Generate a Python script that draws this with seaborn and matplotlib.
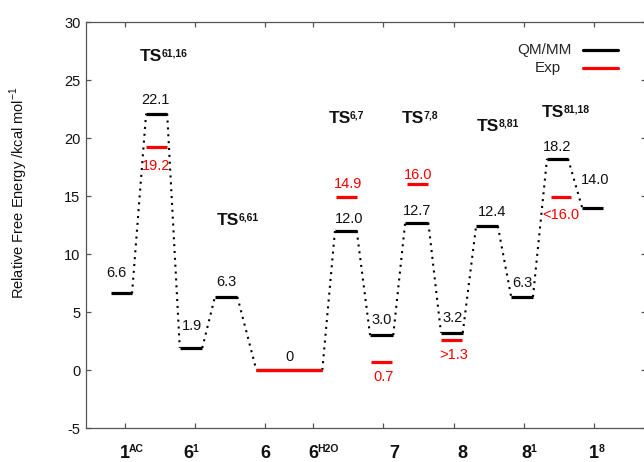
import numpy as np
import pandas as pd
import matplotlib
matplotlib.use('Agg')
import matplotlib.pyplot as plt
import seaborn as sns

# energies (kcal/mol) along the pathway
states = ['1AC', 'TS61,16', '61', 'TS6,61', '6', 'TS6,7', '7', 'TS7,8', '8',
          'TS8,81', '81', 'TS81,18', '18']
qm_values = [6.6, 22.1, 1.9, 6.3, 0.0, 12.0, 3.0, 12.7, 3.2, 12.4, 6.3, 18.2, 14.0]
qm_labels = ['6.6', '22.1', '1.9', '6.3', '0', '12.0', '3.0', '12.7', '3.2',
             '12.4', '6.3', '18.2', '14.0']

exp_states = ['TS61,16', '6', 'TS6,7', '7', 'TS7,8', '8', 'TS81,18']
exp_values = [19.2, 0.0, 14.9, 0.7, 16.0, 2.6, 14.9]
exp_labels = ['19.2', '', '14.9', '0.7', '16.0', '>1.3', '<16.0']

ts_names = ['61,16', '6,61', '6,7', '7,8', '8,81', '81,18']

tick_bases = ['1', '6', '6', '6', '7', '8', '8', '1']
tick_sups = ['AC', '1', '', 'H2O', '', '', '1', '8']

# layout: horizontal extent of each level
lev_left = [0.80, 1.30, 1.78, 2.28, 2.87, 3.99, 4.49, 4.99, 5.50, 6.00, 6.50, 7.01, 7.51]
lev_right = [1.10, 1.60, 2.10, 2.60, 3.81, 4.30, 4.82, 5.32, 5.81, 6.31, 6.81, 7.31, 7.81]
exp_left = [1.30, 2.87, 4.00, 4.50, 5.02, 5.50, 7.06]
exp_right = [1.60, 3.81, 4.30, 4.80, 5.32, 5.80, 7.35]

qm_lab_xy = [(0.87, 8.35), (1.43, 23.3), (1.96, 3.8), (2.45, 7.6), (3.34, 1.1),
             (4.19, 13.0), (4.66, 4.3), (5.16, 13.7), (5.67, 4.5), (6.23, 13.6),
             (6.66, 7.5), (7.15, 19.2), (7.70, 16.4)]
exp_lab_xy = [(1.44, 17.6), None, (4.17, 16.0), (4.68, -0.6), (5.18, 16.8),
              (5.68, 1.3), (7.20, 13.4)]
ts_xy = [(1.21, 26.6), (2.31, 12.5), (3.90, 21.3), (4.94, 21.3), (6.01, 20.6), (6.94, 21.8)]

tick_pos = [1.0, 2.0, 3.0, 3.68, 4.68, 5.68, 6.68, 7.68]
tick_lab_x = [1.0, 1.90, 3.0, 3.68, 4.83, 5.80, 6.71, 7.68]

# long-form tables for seaborn
qm_df = pd.DataFrame({
    'seg': np.repeat(np.arange(len(states)), 2),
    'x': np.ravel(np.column_stack([lev_left, lev_right])),
    'E': np.repeat(qm_values, 2),
})
exp_df = pd.DataFrame({
    'seg': np.repeat(np.arange(len(exp_states)), 2),
    'x': np.ravel(np.column_stack([exp_left, exp_right])),
    'E': np.repeat(exp_values, 2),
})
path_df = pd.DataFrame({
    'seg': np.repeat(np.arange(len(states) - 1), 2),
    'x': np.ravel(np.column_stack([lev_right[:-1], lev_left[1:]])),
    'E': np.ravel(np.column_stack([qm_values[:-1], qm_values[1:]])),
})

sns.set_theme(style='ticks')
plt.rcParams['font.family'] = ['Liberation Sans', 'DejaVu Sans']
plt.rcParams['mathtext.fontset'] = 'custom'
plt.rcParams['mathtext.rm'] = 'Liberation Sans'
plt.rcParams['axes.unicode_minus'] = False

fig = plt.figure(figsize=(6.44, 4.62), dpi=100)
ax = fig.add_axes([86 / 644, 34 / 462, 560 / 644, 406 / 462])

sns.lineplot(data=path_df, x='x', y='E', units='seg', estimator=None, sort=False,
             color='black', lw=1.5, linestyle=(0, (1, 2.3)), ax=ax, legend=False)
sns.lineplot(data=qm_df, x='x', y='E', units='seg', estimator=None,
             color='black', lw=2.3, ax=ax, legend=False, solid_capstyle='butt')
sns.lineplot(data=exp_df, x='x', y='E', units='seg', estimator=None,
             color='#ff0000', lw=2.3, ax=ax, legend=False, solid_capstyle='butt')

for lab, (x, y) in zip(qm_labels, qm_lab_xy):
    ax.text(x, y, lab, ha='center', va='center', fontsize=10.5, color='#111111')
for lab, xy in zip(exp_labels, exp_lab_xy):
    if xy is None:
        continue
    ax.text(xy[0], xy[1], lab, ha='center', va='center', fontsize=10.5, color='#ff0000')


def sup_text(x, y, base, sup, size, sup_size, **kw):
    t = ax.text(x, y, base, fontsize=size, fontweight='bold', va='baseline',
                color='#111111', **kw)
    if sup:
        ax.annotate(sup, xy=(1, 1), xycoords=t, xytext=(-0.6, 0.6),
                    textcoords='offset points', ha='left', va='top',
                    fontsize=sup_size, fontweight='bold', color='#111111')
    return t


for name, (x, y) in zip(ts_names, ts_xy):
    sup_text(x, y, 'TS', name, 12.5, 7.5, ha='left')

for bx, b, s in zip(tick_lab_x, tick_bases, tick_sups):
    sup_text(bx, -0.074, b, s, 13, 7.5, ha='center', transform=ax.get_xaxis_transform())

# legend (text on the left, key on the right)
ax.text(0.868, 0.931, 'QM/MM', transform=ax.transAxes, ha='right', va='center', fontsize=11)
ax.text(0.848, 0.887, 'Exp', transform=ax.transAxes, ha='right', va='center', fontsize=11)
ax.plot([0.8875, 0.95], [0.931, 0.931], transform=ax.transAxes, color='black', lw=2.3)
ax.plot([0.8875, 0.95], [0.887, 0.887], transform=ax.transAxes, color='#ff0000', lw=2.3)

ax.set_xlim(0.444, 8.42)
ax.set_ylim(-5, 30)
ax.set_xticks(tick_pos)
ax.set_xticklabels([])
ax.set_yticks(np.arange(-5, 31, 5))
ax.set_xlabel('')
ax.set_ylabel('Relative Free Energy /kcal mol$^{-1}$', fontsize=10.5, color='#111111')
ax.yaxis.set_label_coords(-0.10, 0.58)

for sp in ax.spines.values():
    sp.set_visible(True)
    sp.set_color('#555555')
    sp.set_linewidth(0.9)
ax.tick_params(direction='in', length=3.5, width=0.9, color='#555555',
               top=True, right=True, labelsize=10.5, labelcolor='#111111')
ax.tick_params(axis='y', pad=4)

fig.savefig('out.png', dpi=100)
